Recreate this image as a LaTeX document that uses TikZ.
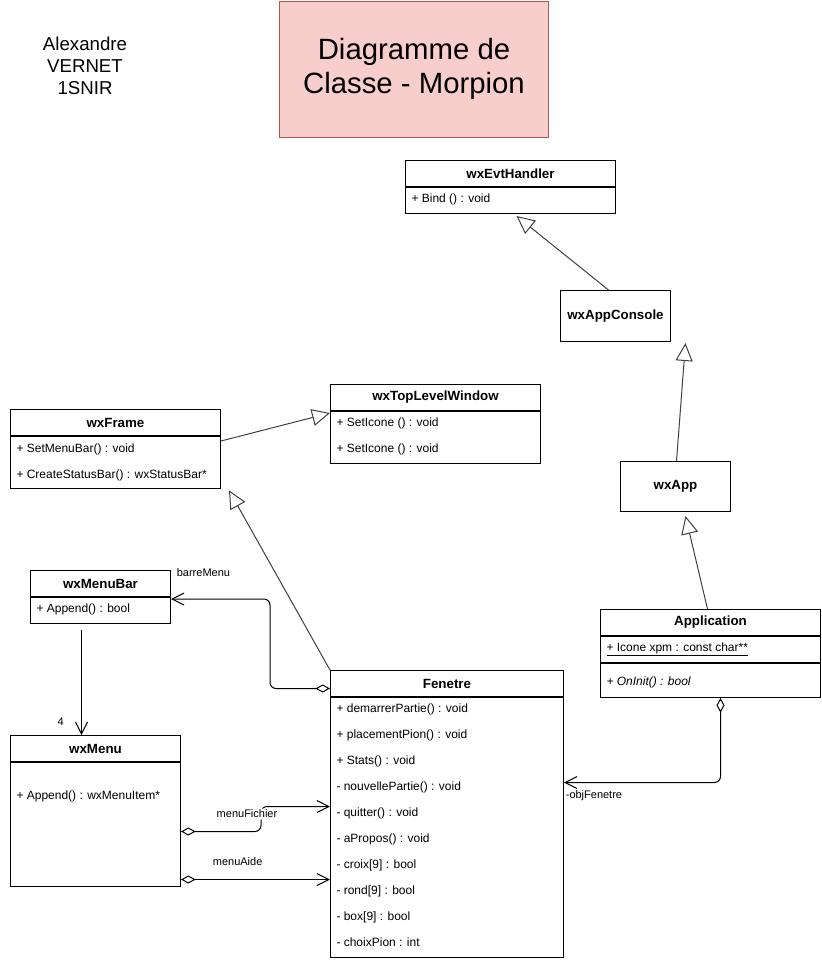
\documentclass[tikz,border=0pt]{standalone}
\usepackage{fontspec}
\setmainfont{Liberation Sans}
\usetikzlibrary{arrows.meta}

\definecolor{titlefill}{HTML}{F8CECC}
\definecolor{titleline}{HTML}{B85450}

\begin{document}
\begin{tikzpicture}[x=0.75pt,y=-0.75pt,line width=0.75pt,
                    font=\fontsize{9}{11}\selectfont]
\useasboundingbox (0,0) rectangle (821,960);

\node[draw=titleline,fill=titlefill,anchor=north west,inner sep=0,
      minimum width=201.75pt,minimum height=102pt,align=center,
      font=\fontsize{22}{25.5}\selectfont] (title) at (279,0.5) {Diagramme de\\Classe - Morpion};
\node[align=center,font=\fontsize{14}{16.5}\selectfont] (author) at (85,66) {Alexandre\\VERNET\\ 1SNIR};

% class boxes
\begin{scope}[every node/.style={rectangle,draw,anchor=north west,inner sep=0,minimum height=19.5pt}]
    \node[minimum width=157.5pt,font=\bfseries] (evtH) at (405,160) {wxEvtHandler};
    \node[minimum width=157.5pt] (evtB) at (evtH.south west) {};
    \node[minimum width=82.5pt,minimum height=38.25pt,font=\bfseries] (appcon) at (560,290) {wxAppConsole};
    \node[minimum width=157.5pt,font=\bfseries] (tlwH) at (330,384) {wxTopLevelWindow};
    \node[minimum width=157.5pt,minimum height=39pt] (tlwB) at (tlwH.south west) {};
    \node[minimum width=157.5pt,font=\bfseries] (frameH) at (10,409) {wxFrame};
    \node[minimum width=157.5pt,minimum height=39pt] (frameB) at (frameH.south west) {};
    \node[minimum width=82.5pt,minimum height=37.5pt,font=\bfseries] (app) at (620,461) {wxApp};
    \node[minimum width=105pt,font=\bfseries] (mbarH) at (30,570) {wxMenuBar};
    \node[minimum width=105pt] (mbarB) at (mbarH.south west) {};
    \node[minimum width=165pt,font=\bfseries] (applH) at (600,609) {Application};
    \node[minimum width=165pt] (applA) at (applH.south west) {};
    \node[minimum width=165pt,minimum height=25.5pt] (applM) at (applA.south west) {};
    \node[minimum width=127.5pt,font=\bfseries] (menuH) at (10,735) {wxMenu};
    \node[minimum width=127.5pt,minimum height=93pt] (menuB) at (menuH.south west) {};
    \node[minimum width=174.75pt,font=\bfseries] (fenH) at (330,670) {Fenetre};
    \node[minimum width=174.75pt,minimum height=195pt] (fenB) at (fenH.south west) {};
\end{scope}

% members
\begin{scope}[every node/.style={anchor=west,inner sep=0,text height=6.75pt,text depth=2pt}]
    \node (evt1) at (411,199) {+ Bind () : void};
    \node (tlw1) at (336,423) {+ SetIcone () : void};
    \node (tlw2) at (336,449) {+ SetIcone () : void};
    \node (frame1) at (16,449) {+ SetMenuBar() : void};
    \node (frame2) at (16,475) {+ CreateStatusBar() : wxStatusBar*};
    \node (mbar1) at (36,609) {+ Append() : bool};
    \node (appl1) at (606,648) {\underline{+ Icone xpm : const char**}};
    \node (appl2) at (606,682) {\itshape + OnInit() : bool};
    \node (menu1) at (16,796) {+ Append() : wxMenuItem*};
    \foreach \t [count=\i] in {{+ demarrerPartie() : void},{+ placementPion() : void},
        {+ Stats() : void},{- nouvellePartie() : void},{- quitter() : void},
        {- aPropos() : void},{- croix[9] : bool},{- rond[9] : bool},
        {- box[9] : bool},{- choixPion : int}}
        \node (fen\i) at (336,683+26*\i) {\t};
\end{scope}

% inheritance
\begin{scope}[every edge/.style={draw=black!75,-{Triangle[open,length=13.5pt,width=12.75pt]}}]
    \path ([xshift=-5.25pt]appcon.north) edge ([xshift=4.5pt,yshift=-1.5pt]evtB.south);
    \path ([xshift=0.75pt]app.north) edge ([xshift=7.5pt,yshift=-0.75pt]app.south |- appcon.south);
    \path ([xshift=-2.25pt]applH.north) edge ([xshift=7.5pt,yshift=-3pt]app.south);
    \path ([yshift=-3.75pt]frameH.south east) edge ([yshift=-1.5pt]tlwH.south west);
    \path (fenH.north west) edge ([xshift=6pt,yshift=-1pt]frameB.south east);
\end{scope}

% associations
\begin{scope}[every node/.style={font=\fontsize{8.25}{10}\selectfont,inner sep=1pt},
              rounded corners=4.5pt]
    \draw[{Diamond[open,length=11pt,width=6pt]}-{Straight Barb[length=9pt,width=9pt]}]
        ([yshift=-3.75pt]fenH.west) -- ++(-60,0) |- ([yshift=-1.5pt]mbarH.south east)
        node[anchor=south west,xshift=3pt,yshift=15.75pt] (lblBarre) {barreMenu};
    \draw[-{Straight Barb[length=9pt,width=9pt]}]
        ([xshift=-14.25pt,yshift=-4.5pt]mbarB.south) -- ([xshift=-14.25pt]mbarB.south |- menuH.north)
        node[anchor=south east,xshift=-12pt,yshift=6pt] (lblQuatre) {4};
    \draw[{Diamond[open,length=11pt,width=6pt]}-{Straight Barb[length=9pt,width=9pt]}]
        ([yshift=-5.25pt]menuB.east) -- ++(80,0) |- ([yshift=15.75pt]fenB.west);
    \node[fill=white] (lblFichier) at (247,814) {menuFichier};
    \draw[{Diamond[open,length=11pt,width=6pt]}-{Straight Barb[length=9pt,width=9pt]}]
        ([yshift=-41.25pt]menuB.east) -- ([yshift=-41.25pt]menuB.east -| fenB.west)
        node[pos=0.38,above,yshift=9pt] (lblAide) {menuAide};
    \draw[{Diamond[open,length=11pt,width=6pt]}-{Straight Barb[length=9pt,width=9pt]}]
        ([xshift=7.5pt]applM.south) |- ([yshift=33.75pt]fenB.east)
        node[anchor=north west,yshift=-5pt] (lblObj) {-objFenetre};
\end{scope}
\end{tikzpicture}
\end{document}
